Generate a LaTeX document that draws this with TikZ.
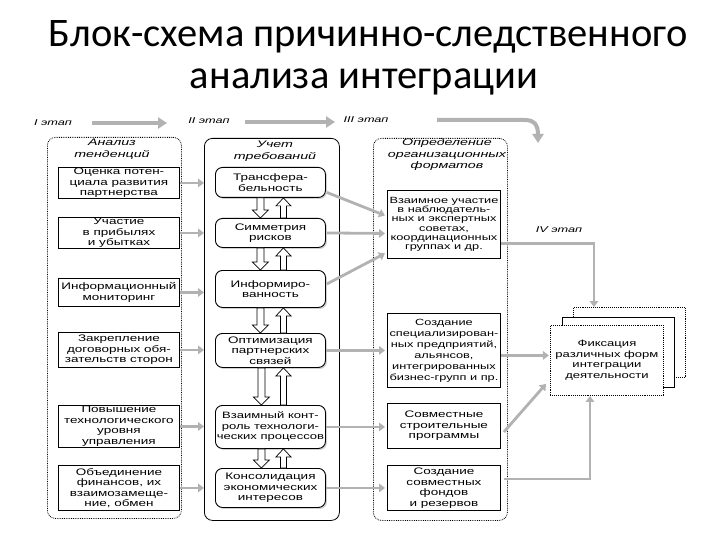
\documentclass[tikz,border=0pt]{standalone}
\usepackage{fontspec}
\setmainfont{Liberation Sans}
\newfontfamily\ttl{Carlito}
\newfontfamily\bx[FakeStretch=1.42]{Liberation Sans}
\newfontfamily\hd[FakeStretch=1.5]{Liberation Sans}
\usetikzlibrary{arrows.meta,calc,shadows}
\newcommand\hdown[3]{%
  \path let \p1=($(#1.south)+(#3,0)$), \p2=($(#2.north)+(#3,0)$) in
  [draw=black, line width=0.7pt, fill=white]
  (\x1-3.5pt,\y1) -- (\x1+3.5pt,\y1) -- (\x1+3.5pt,\y2+8pt) -- (\x1+8pt,\y2+8pt)
  -- (\x1,\y2) -- (\x1-8pt,\y2+8pt) -- (\x1-3.5pt,\y2+8pt) -- cycle;}
\newcommand\hup[3]{%
  \path let \p1=($(#1.south)+(#3,0)$), \p2=($(#2.north)+(#3,0)$) in
  [draw=black, line width=0.7pt, fill=white]
  (\x1-3pt,\y2) -- (\x1+3pt,\y2) -- (\x1+3pt,\y1-8pt) -- (\x1+7.5pt,\y1-8pt)
  -- (\x1,\y1) -- (\x1-7.5pt,\y1-8pt) -- (\x1-3pt,\y1-8pt) -- cycle;}
\begin{document}
\begin{tikzpicture}[x=1pt,y=-1pt,
  outer/.style={draw, line width=0.8pt, rounded corners=8pt, anchor=north west, inner sep=0pt},
  box/.style={draw, line width=0.9pt, fill=white, align=center, anchor=north west, inner sep=0pt,
    font=\bx\fontsize{9.5}{10.5}\selectfont},
  rbox/.style={box, rounded corners=7pt, drop shadow={shadow xshift=1.5pt, shadow yshift=-1.5pt, fill=black!35}},
  hdr/.style={font=\hd\itshape\fontsize{9.5}{11.5}\selectfont, align=center, inner sep=0pt},
  stgl/.style={font=\hd\itshape\fontsize{8.5}{10}\selectfont, inner sep=0pt},
  conn/.style={draw=black!30, line width=2.8pt, -{Triangle[length=6pt,width=8.5pt]}},
  stg/.style={draw=black!30, line width=4pt, -{Triangle[length=9pt,width=11pt]}},
  ttlf/.style={font=\ttl\fontsize{40.5}{46}\selectfont, inner sep=0pt, anchor=base}
]
\useasboundingbox (0,0) rectangle (720,540);
\fill[white] (0,0) rectangle (720,540);

% title
\node[ttlf] (t1) at (368,47) {Блок-схема причинно-следственного};
\node[ttlf] (t2) at (364,89) {анализа интеграции};

% stage labels
\node[stgl] (s1) at (53,123) {I этап};
\node[stgl] (s2) at (209,121) {II этап};
\node[stgl] (s3) at (366,120) {III этап};
\node[stgl] (s4) at (559,230) {IV этап};
\coordinate (a1s) at (92,123); \coordinate (a1e) at (167,123);
\coordinate (a2s) at (245,122); \coordinate (a2e) at (335,122);
\coordinate (a3s) at (437,120); \coordinate (a3m) at (525,120); \coordinate (a3e) at (538,143);
\draw[stg] (a1s) -- (a1e);
\draw[stg] (a2s) -- (a2e);
\draw[stg] (a3s) -- (a3m) .. controls (535,120) and (538,126) .. (a3e);

% outer columns
\node[outer, densely dotted, minimum width=134pt, minimum height=381pt] (col1) at (47,137) {};
\node[outer, minimum width=135pt, minimum height=382pt] (col2) at (204,138) {};
\node[outer, densely dotted, minimum width=134pt, minimum height=382pt] (col3) at (373,138) {};

\node[hdr] (h1) at (112,149) {Анализ\\тенденций};
\node[hdr] (h2) at (275,151) {Учет\\требований};
\node[hdr] (h3) at (447,155) {Определение\\организационных\\форматов};

% column 1
\node[box, minimum width=121pt, minimum height=31pt] (b1) at (58,167) {Оценка потен-\\циала развития\\партнерства};
\node[box, minimum width=121pt, minimum height=31pt] (b2) at (58,217) {Участие\\в прибылях\\и убытках};
\node[box, minimum width=121pt, minimum height=28pt] (b3) at (58,278) {Информационный\\мониторинг};
\node[box, minimum width=121pt, minimum height=35pt] (b4) at (58,332) {Закрепление\\договорных обя-\\зательств сторон};
\node[box, minimum width=121pt, minimum height=42pt] (b5) at (58,405) {Повышение\\технологического\\уровня\\управления};
\node[box, minimum width=121pt, minimum height=45pt] (b6) at (58,465) {Объединение\\финансов, их\\взаимозамеще-\\ние, обмен};

% column 3
\node[box, minimum width=113pt, minimum height=68pt, font=\bx\fontsize{9}{9.3}\selectfont] (d1) at (387,190) {Взаимное участие\\в наблюдатель-\\ных и экспертных\\советах,\\координационных\\группах и др.};
\node[box, minimum width=113pt, minimum height=74pt, font=\bx\fontsize{9}{11}\selectfont] (d2) at (387,313) {Создание\\специализирован-\\ных предприятий,\\альянсов,\\интегрированных\\бизнес-групп и пр.};
\node[box, minimum width=113pt, minimum height=45pt] (d3) at (387,403) {Совместные\\строительные\\программы};
\node[box, minimum width=113pt, minimum height=45pt] (d4) at (387,465) {Создание\\совместных\\фондов\\и резервов};

% right stack
\node[box, densely dotted, minimum width=112pt, minimum height=70pt] (back) at (573,307) {};
\node[box, minimum width=112pt, minimum height=70pt] (mid) at (562,317) {};
\node[box, densely dotted, minimum width=113pt, minimum height=70pt, font=\bx\fontsize{9.2}{10.5}\selectfont] (front) at (550,325) {Фиксация\\различных форм\\интеграции\\деятельности};

% column 2 (rounded)
\node[rbox, minimum width=110pt, minimum height=30pt] (c1) at (215,167) {Трансфера-\\бельность};
\node[rbox, minimum width=110pt, minimum height=29pt] (c2) at (215,218) {Симметрия\\рисков};
\node[rbox, minimum width=110pt, minimum height=37pt] (c3) at (215,270) {Информиро-\\ванность};
\node[rbox, minimum width=110pt, minimum height=34pt] (c4) at (215,333) {Оптимизация\\партнерских\\связей};
\node[rbox, minimum width=110pt, minimum height=43pt, font=\bx\fontsize{9.2}{10.5}\selectfont] (c5) at (215,405) {Взаимный конт-\\роль технологи-\\ческих процессов};
\node[rbox, minimum width=110pt, minimum height=39pt] (c6) at (215,468) {Консолидация\\экономических\\интересов};

% hollow arrows in column 2
\hdown{c1}{c2}{-10} \hup{c1}{c2}{13}
\hdown{c2}{c3}{-10} \hup{c2}{c3}{13}
\hdown{c3}{c4}{-10} \hup{c3}{c4}{13}
\hdown{c4}{c5}{-9}  \hup{c4}{c5}{13}
\hdown{c5}{c6}{-9}  \hup{c5}{c6}{13}

% connectors column 1 -> column 2
\foreach \n in {b1,b2,b3,b4,b5,b6}
  \draw[conn] (\n.east) -- (\n.east -| col2.west);

% connectors column 2 -> column 3
\draw[conn] ($(c1.east)+(1,10)$) -- ($(d1.west)+(-2,-9)$);
\draw[conn] ($(c2.east)+(1,0)$) -- ($(d1.west)+(-2,9)$);
\draw[conn] ($(c3.east)+(1,-5)$) -- ($(d1.west)+(-2,29)$);
\draw[conn] (c4.east) -- ($(c4.east -| d2.west)+(-2,0)$);
\draw[conn] (c5.east) -- ($(c5.east -| d3.west)+(-2,0)$);
\draw[conn] (c6.east) -- ($(c6.east -| d4.west)+(-2,0)$);

% connectors column 3 -> right stack
\draw[conn] ($(d1.east)+(0,19)$) -| ($(back.north west)+(21,0)$);
\draw[conn] ($(d2.east)+(0,5)$) -- ($(d2.east)+(48,5)$);
\draw[conn] ($(d3.east)+(3,6)$) -- ($(front.south west)+(-4,-12)$);
\draw[conn] ($(d4.east)+(3,-9)$) -| ($(front.south west)+(40,0)$);
\end{tikzpicture}
\end{document}
